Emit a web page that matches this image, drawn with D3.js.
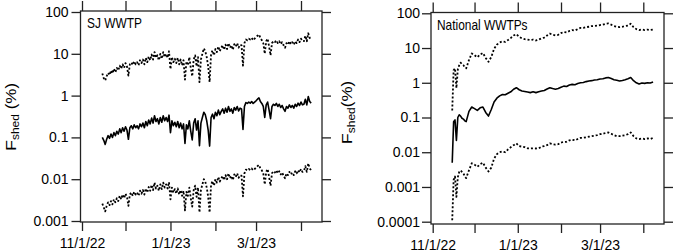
<!DOCTYPE html>
<html>
<head>
<meta charset="utf-8">
<script src="https://cdn.jsdelivr.net/npm/d3@7"></script>
<style>
  body { margin: 0; background: #fff; }
  svg { display: block; font-family: "Liberation Sans", Arial, sans-serif; }
  .axis path { display: none; }
  .axis line { stroke: #222; stroke-width: 1.3; }
  .axis text { fill: #000; font-size: 14px; }
</style>
</head>
<body>
<svg id="chart" width="675" height="252"></svg>
<script>
const parseTime = d3.timeParse('%Y-%m-%d');

// x ticks (monthly), labels only on every other month
const monthTicks = ['2022-11-01','2022-12-01','2023-01-01','2023-02-01','2023-03-01','2023-04-01'];
const monthLabels = ['11/1/22','','1/1/23','','3/1/23',''];

const sjTicks = [100, 10, 1, 0.1, 0.01, 0.001];
const sjTickLabels = ['100','10','1','0.1','0.01','0.001'];
const natTicks = [100, 10, 1, 0.1, 0.01, 0.001, 0.0001];
const natTickLabels = ['100','10','1','0.1','0.01','0.001','0.0001'];

// SJ WWTP: daily values starting 11/15/22
const sjStart = '2022-11-15';
const sjMid = [
  0.10,0.085,0.068,0.09,0.11,0.095,0.12,0.10,0.13,0.11,
  0.14,0.12,0.16,0.13,0.17,0.14,0.18,0.15,0.09,0.17,
  0.19,0.16,0.20,0.17,0.19,0.16,0.21,0.18,0.22,0.17,
  0.24,0.19,0.26,0.21,0.29,0.22,0.33,0.24,0.28,0.21,
  0.30,0.23,0.33,0.25,0.30,0.24,0.34,0.13,0.25,0.19,
  0.23,0.18,0.24,0.17,0.22,0.16,0.21,0.072,0.20,0.16,
  0.25,0.14,0.087,0.22,0.28,0.15,0.25,0.063,0.22,0.30,
  0.40,0.35,0.25,0.15,0.062,0.30,0.36,0.28,0.40,0.33,
  0.45,0.35,0.42,0.48,0.38,0.50,0.40,0.55,0.42,0.48,
  0.38,0.52,0.45,0.55,0.43,0.50,0.48,0.155,0.55,0.68,
  0.65,0.70,0.66,0.72,0.65,0.70,0.75,0.82,0.88,0.72,
  0.65,0.55,0.30,0.60,0.70,0.45,0.28,0.55,0.62,0.58,
  0.65,0.55,0.62,0.52,0.58,0.48,0.42,0.55,0.50,0.60,
  0.52,0.58,0.50,0.62,0.55,0.66,0.58,0.70,0.60,0.62,
  0.82,0.60,0.95,0.72,0.66
];
const sjHigh = [
  3.4,2.6,2.3,2.9,3.5,3.1,4.0,3.4,4.4,3.6,
  4.6,4.0,5.2,4.4,5.6,4.6,6.0,5.0,3.0,5.6,
  6.2,5.4,6.6,5.6,6.3,5.3,7.0,6.0,7.3,5.6,
  8.0,6.3,8.6,7.0,9.6,7.3,11,8.0,9.2,7.0,
  10,7.6,11,8.3,9.9,8.0,11.5,4.3,8.3,6.3,
  7.6,6.0,8.0,5.6,7.3,5.3,7.0,2.4,6.6,5.3,
  8.3,4.6,2.9,7.3,9.2,5.0,8.3,2.1,7.3,10,
  13.5,11.5,8.3,5.0,2.1,10,12,9.2,13,11,
  15,11.5,14,16,12.5,16.5,13,18,14,16,
  12.5,17,15,18,14,16.5,16,5.2,18,22,
  21,23,22,24,21,23,25,27,29,24,
  21,18,10,20,23,15,9.2,18,20,19,
  21,18,20,17,19,16,14,18,16.5,20,
  17,19,16.5,20,18,22,19,23,20,20,
  27,20,31,24,22
];
const sjLow = [
  0.0026,0.0021,0.0017,0.0023,0.0028,0.0024,0.003,0.0025,0.0033,0.0028,
  0.0035,0.003,0.004,0.0033,0.0043,0.0035,0.0045,0.0038,0.0023,0.0043,
  0.0048,0.004,0.005,0.0043,0.0048,0.004,0.0053,0.0045,0.0055,0.0043,
  0.006,0.0048,0.0065,0.0053,0.0073,0.0055,0.0083,0.006,0.007,0.0053,
  0.0075,0.0058,0.0083,0.0063,0.0075,0.006,0.0085,0.0033,0.0063,0.0048,
  0.0058,0.0045,0.006,0.0043,0.0055,0.004,0.0053,0.0018,0.005,0.004,
  0.0063,0.0035,0.0022,0.0055,0.007,0.0038,0.0063,0.0016,0.0055,0.0075,
  0.010,0.0088,0.0063,0.0038,0.0016,0.0075,0.009,0.007,0.010,0.0083,
  0.0113,0.0088,0.0105,0.012,0.0095,0.0125,0.010,0.0138,0.0105,0.012,
  0.0095,0.013,0.0113,0.0138,0.0108,0.0125,0.012,0.0039,0.0138,0.017,
  0.0163,0.0175,0.0165,0.018,0.0163,0.0175,0.0188,0.0205,0.022,0.018,
  0.0163,0.0138,0.0075,0.015,0.0175,0.0113,0.007,0.0138,0.0155,0.0145,
  0.0163,0.0138,0.0155,0.013,0.0145,0.012,0.0105,0.0138,0.0125,0.015,
  0.013,0.0145,0.0125,0.0155,0.0138,0.0165,0.0145,0.0175,0.015,0.0155,
  0.0205,0.015,0.024,0.018,0.0165
];

// National WWTPs: days after 11/1/22
const natDay = [14,15,16,17,18,19,20,21,22,23,24,
  26,28,30,32,34,36,38,40,42,44,46,48,50,52,54,56,58,60,62,64,66,68,70,72,74,76,78,80,
  82,84,86,88,90,92,94,96,98,100,102,104,106,108,110,112,114,116,118,120,122,124,126,128,
  130,132,134,136,138,140,142,144,146,148,150,152,154,156,158];
const natMid = [0.005,0.075,0.085,0.022,0.10,0.12,0.11,0.095,0.09,0.08,0.076,
  0.15,0.20,0.18,0.16,0.19,0.20,0.14,0.11,0.17,0.28,0.36,0.42,0.46,0.45,0.50,0.55,0.65,0.72,0.63,0.58,0.56,0.54,0.52,0.55,0.52,0.55,0.58,0.60,
  0.66,0.72,0.68,0.65,0.68,0.74,0.80,0.78,0.86,0.90,0.88,0.95,1.00,1.02,1.08,1.12,1.15,1.20,1.22,1.28,1.30,1.38,1.42,1.32,
  1.22,1.18,1.12,1.16,1.22,1.30,1.42,1.15,1.00,0.92,0.98,0.96,1.00,0.98,1.05];
const natHigh = [0.16,2.3,2.6,0.7,2.4,3.2,3.8,3.4,3.2,2.8,2.6,
  4.5,7.0,6.2,5.4,6.5,7.2,5.2,4.0,5.5,9.5,12.5,14.5,15.5,15,17,19.5,23,25,21,19,18,17.5,17,17.5,16.5,17.5,19,20,
  23,26,24,23,24,27,29,28,31,33,32,35,38,38,40,41,43,43,44,46,47,50,51,47,
  43,41,40,41,43,44,50,40,35,33,34,33,34,33,34];
const natLow = [0.00011,0.0016,0.002,0.00052,0.0019,0.0027,0.003,0.0027,0.0025,0.002,0.0018,
  0.003,0.0048,0.0044,0.0038,0.0045,0.005,0.0036,0.0028,0.0036,0.0065,0.0088,0.010,0.0105,0.010,0.012,0.014,0.016,0.018,0.015,0.0145,0.014,0.013,0.0128,0.013,0.0128,0.013,0.0145,0.015,
  0.016,0.018,0.017,0.0165,0.017,0.019,0.020,0.020,0.022,0.023,0.022,0.024,0.026,0.026,0.027,0.028,0.029,0.03,0.031,0.033,0.034,0.036,0.037,0.034,
  0.031,0.029,0.029,0.03,0.031,0.033,0.037,0.029,0.025,0.024,0.025,0.024,0.025,0.024,0.026];

const svg = d3.select('#chart');
const months = monthTicks.map(parseTime);
const origin = parseTime('2022-11-01');
const sjDates = sjMid.map((d, i) => d3.timeDay.offset(parseTime(sjStart), i));
const natDates = natDay.map(d => d3.timeDay.offset(origin, d));

const drawPanel = p => {
  const x = d3.scaleTime().domain([months[0], months[5]]).range(p.xRange);
  const y = d3.scaleLog().domain(p.yDomain).range(p.yRange);
  const g = svg.append('g');
  const b = p.box;

  g.append('g').attr('class', 'axis')
    .attr('transform', `translate(${b.x0},0)`)
    .call(d3.axisLeft(y).tickValues(p.ticks).tickSize(9).tickPadding(p.pad)
      .tickFormat((d, i) => p.tickLabels[i]));
  g.append('g').attr('class', 'axis')
    .attr('transform', `translate(${b.x1},0)`)
    .call(d3.axisRight(y).tickValues(p.ticks).tickSize(9).tickFormat(''));
  g.append('g').attr('class', 'axis')
    .attr('transform', `translate(0,${b.y1})`)
    .call(d3.axisBottom(x).tickValues(months).tickSize(9).tickPadding(7)
      .tickFormat((d, i) => monthLabels[i]));
  g.append('g').attr('class', 'axis')
    .attr('transform', `translate(0,${b.y0})`)
    .call(d3.axisTop(x).tickValues(months).tickSize(10).tickFormat(''));

  g.append('rect')
    .attr('x', b.x0).attr('y', b.y0)
    .attr('width', b.x1 - b.x0).attr('height', b.y1 - b.y0)
    .attr('fill', 'none').attr('stroke', '#222').attr('stroke-width', 1.3);

  const line = d3.line().x(d => x(d[0])).y(d => y(d[1]));
  p.series.forEach(s => {
    g.append('path')
      .datum(p.dates.map((d, i) => [d, s.values[i]]))
      .attr('d', line)
      .attr('fill', 'none')
      .attr('stroke', '#000')
      .attr('stroke-width', s.dash ? 1.8 : 1.6)
      .attr('stroke-linejoin', 'round')
      .attr('stroke-dasharray', s.dash ? '2,2' : null);
  });

  g.append('text')
    .attr('transform', `translate(${p.title.x},${p.title.y}) scale(0.85,1)`)
    .attr('font-size', 14).attr('fill', '#000')
    .text(p.title.text);

  const lab = g.append('text')
    .attr('transform', `translate(${p.label.x},${p.label.y}) rotate(-90) scale(1,0.85)`)
    .attr('text-anchor', 'middle').attr('fill', '#000');
  lab.append('tspan').attr('font-size', 18).text('F');
  lab.append('tspan').attr('font-size', 12).attr('dy', 4).text('shed');
  lab.append('tspan').attr('font-size', 17).attr('dy', -4).text(p.label.tail);
};

drawPanel({
  box: {x0: 80.5, x1: 322, y0: 11, y1: 222},
  xRange: [82, 301],
  yDomain: [0.001, 100], yRange: [221, 12],
  ticks: sjTicks, tickLabels: sjTickLabels, pad: 3,
  dates: sjDates,
  series: [{values: sjHigh, dash: true}, {values: sjMid}, {values: sjLow, dash: true}],
  title: {text: 'SJ WWTP', x: 87, y: 28},
  label: {x: 15.5, y: 117, tail: ' (%)'}
});

drawPanel({
  box: {x0: 431, x1: 664, y0: 12.5, y1: 224},
  xRange: [432.7, 643.3],
  yDomain: [0.0001, 100], yRange: [221.7, 13.3],
  ticks: natTicks, tickLabels: natTickLabels, pad: 2,
  dates: natDates,
  series: [{values: natHigh, dash: true}, {values: natMid}, {values: natLow, dash: true}],
  title: {text: 'National WWTPs', x: 437, y: 30},
  label: {x: 351.5, y: 112.5, tail: '(%)'}
});
</script>
</body>
</html>
